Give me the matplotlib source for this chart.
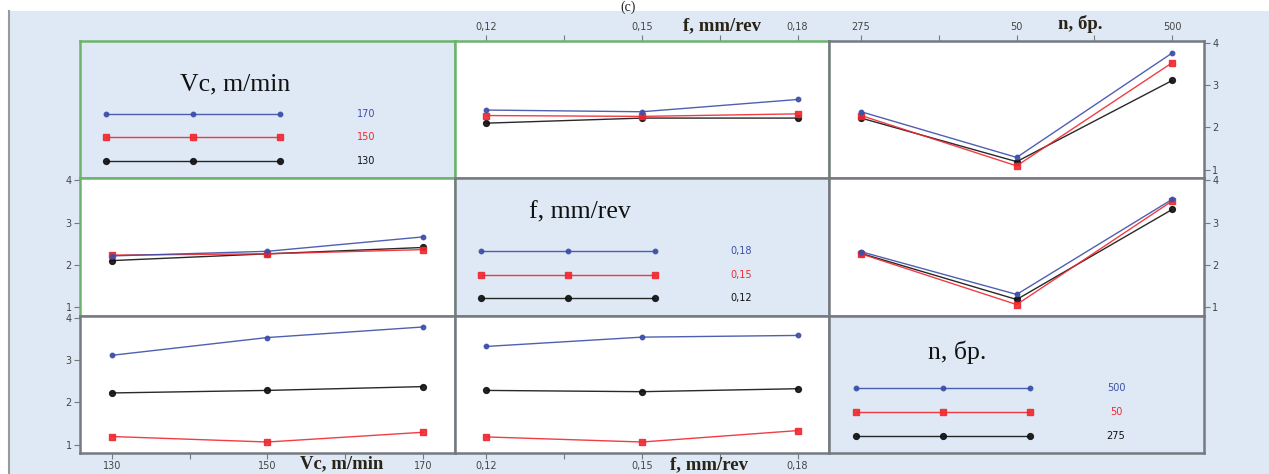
import numpy as np
import matplotlib.pyplot as plt
from matplotlib.patches import Rectangle
from matplotlib.ticker import FixedLocator

# factor levels (order on the x axis)
vc_levels = ['130', '150', '170']
f_levels = ['0,12', '0,15', '0,18']
n_levels = ['275', '50', '500']

# legend order: blue (top), red, black
vc_legend = ['170', '150', '130']
f_legend = ['0,18', '0,15', '0,12']
n_legend = ['500', '50', '275']

# mean response, one list per line level (blue, red, black)
vc_f_blue = [2.41, 2.37, 2.66]
vc_f_red = [2.28, 2.26, 2.32]
vc_f_black = [2.10, 2.22, 2.22]

vc_n_blue = [2.37, 1.29, 3.76]
vc_n_red = [2.28, 1.09, 3.53]
vc_n_black = [2.22, 1.19, 3.11]

f_vc_blue = [2.21, 2.32, 2.66]
f_vc_red = [2.23, 2.26, 2.36]
f_vc_black = [2.10, 2.26, 2.41]

f_n_blue = [2.31, 1.30, 3.55]
f_n_red = [2.26, 1.06, 3.51]
f_n_black = [2.27, 1.18, 3.31]

n_vc_blue = [3.11, 3.53, 3.78]
n_vc_red = [1.19, 1.06, 1.29]
n_vc_black = [2.22, 2.28, 2.37]

n_f_blue = [3.32, 3.54, 3.58]
n_f_red = [1.18, 1.06, 1.33]
n_f_black = [2.28, 2.25, 2.32]

BLUE = '#3c4fa8'
RED = '#f02830'
BLACK = '#111111'
BG = '#dee9f5'
GREEN = '#6cb46c'
GRAY = '#757a80'
TICKC = '#444444'

styles = [(BLUE, 'o', 3.2), (RED, 's', 4.2), (BLACK, 'o', 4.2)]

W, H = 1269, 474
fig = plt.figure(figsize=(W / 100, H / 100), dpi=100)
fig.patches.append(Rectangle((10 / W, 0), 1, 1 - 11 / H, transform=fig.transFigure,
                             facecolor=BG, edgecolor='none', zorder=-10))
fig.lines.append(plt.Line2D([9 / W, 9 / W], [0, 1 - 11 / H], transform=fig.transFigure,
                            color='#9a9a9a', lw=1.5))

gs = fig.add_gridspec(3, 3, left=80 / W, right=1204 / W, top=1 - 40.7 / H,
                      bottom=1 - 453 / H, wspace=0, hspace=0)

pos = np.arange(3)
panels = {
    (0, 1): (vc_f_blue, vc_f_red, vc_f_black),
    (0, 2): (vc_n_blue, vc_n_red, vc_n_black),
    (1, 0): (f_vc_blue, f_vc_red, f_vc_black),
    (1, 2): (f_n_blue, f_n_red, f_n_black),
    (2, 0): (n_vc_blue, n_vc_red, n_vc_black),
    (2, 1): (n_f_blue, n_f_red, n_f_black),
}
col_labels = [vc_levels, f_levels, n_levels]
diag = {
    0: ('Vc, m/min', vc_legend, 0.414, 0.68),
    1: ('f, mm/rev', f_legend, 0.333, 0.75),
    2: ('n, бр.', n_legend, 0.34, 0.735),
}
green_panels = [(0, 0), (0, 1), (1, 0)]

for r in range(3):
    for c in range(3):
        ax = fig.add_subplot(gs[r, c])
        ax.set_xlim(-0.204, 2.204)
        ax.set_ylim(0.8, 4.05)
        ax.set_xticks([])
        ax.set_yticks([])
        ec = GREEN if (r, c) in green_panels else GRAY
        for s in ax.spines.values():
            s.set_color(ec)
            s.set_linewidth(1.8)
        if r == c:
            ax.set_facecolor(BG)
            title, leg, tx, ty = diag[r]
            ax.text(tx, ty, title, transform=ax.transAxes, ha='center', va='center',
                    family='Liberation Serif', fontsize=18.5, color='#111111')
            for k, (col, mk, ms) in enumerate(styles):
                yy = [0.47, 0.297, 0.125][k]
                ax.plot([0.07, 0.3025, 0.535], [yy] * 3, transform=ax.transAxes,
                        color=col, marker=mk, ms=ms, lw=1.0, alpha=0.9)
                ax.text(0.765, yy, leg[k], transform=ax.transAxes, ha='center',
                        va='center', fontsize=7, color=col)
            continue
        ax.set_facecolor('white')
        blue, red, black = panels[(r, c)]
        for vals, (col, mk, ms) in zip([black, red, blue], styles[::-1]):
            ax.plot(pos, vals, color=col, marker=mk, ms=ms, lw=1.0, alpha=0.9)

        tick_kw = dict(direction='out', length=4, width=0.8, color=GRAY,
                       labelsize=7, labelcolor=TICKC, pad=2)
        if r == 0:
            ax.xaxis.tick_top()
            ax.set_xticks(pos)
            ax.set_xticklabels(col_labels[c])
            ax.xaxis.set_minor_locator(FixedLocator([0.5, 1.5]))
            ax.tick_params(axis='x', which='both', **tick_kw)
        if r == 2:
            ax.set_xticks(pos)
            ax.set_xticklabels(col_labels[c])
            ax.xaxis.set_minor_locator(FixedLocator([0.5, 1.5]))
            ax.tick_params(axis='x', which='both', **tick_kw)
        if c == 0:
            ax.set_yticks([1, 2, 3, 4])
            ax.tick_params(axis='y', **tick_kw)
        if c == 2:
            ax.yaxis.tick_right()
            ax.set_yticks([1, 2, 3, 4])
            ax.tick_params(axis='y', **tick_kw)

# axis names placed beside the tick labels
lab_kw = dict(family='Liberation Serif', fontsize=13.5, fontweight='bold',
              color='#2a2418', ha='center', va='center')
fig.text(342 / W, 1 - 464 / H, 'Vc, m/min', **lab_kw)
fig.text(709 / W, 1 - 465 / H, 'f, mm/rev', **lab_kw)
fig.text(722 / W, 1 - 26 / H, 'f, mm/rev', **lab_kw)
fig.text(1080 / W, 1 - 24 / H, 'n, бр.', **lab_kw)
fig.text(628 / W, 1 - 1 / H, '(c)', fontsize=10, family='Liberation Serif',
         ha='center', va='top', color='#222222')

fig.savefig('out.png', dpi=100, facecolor='white')
